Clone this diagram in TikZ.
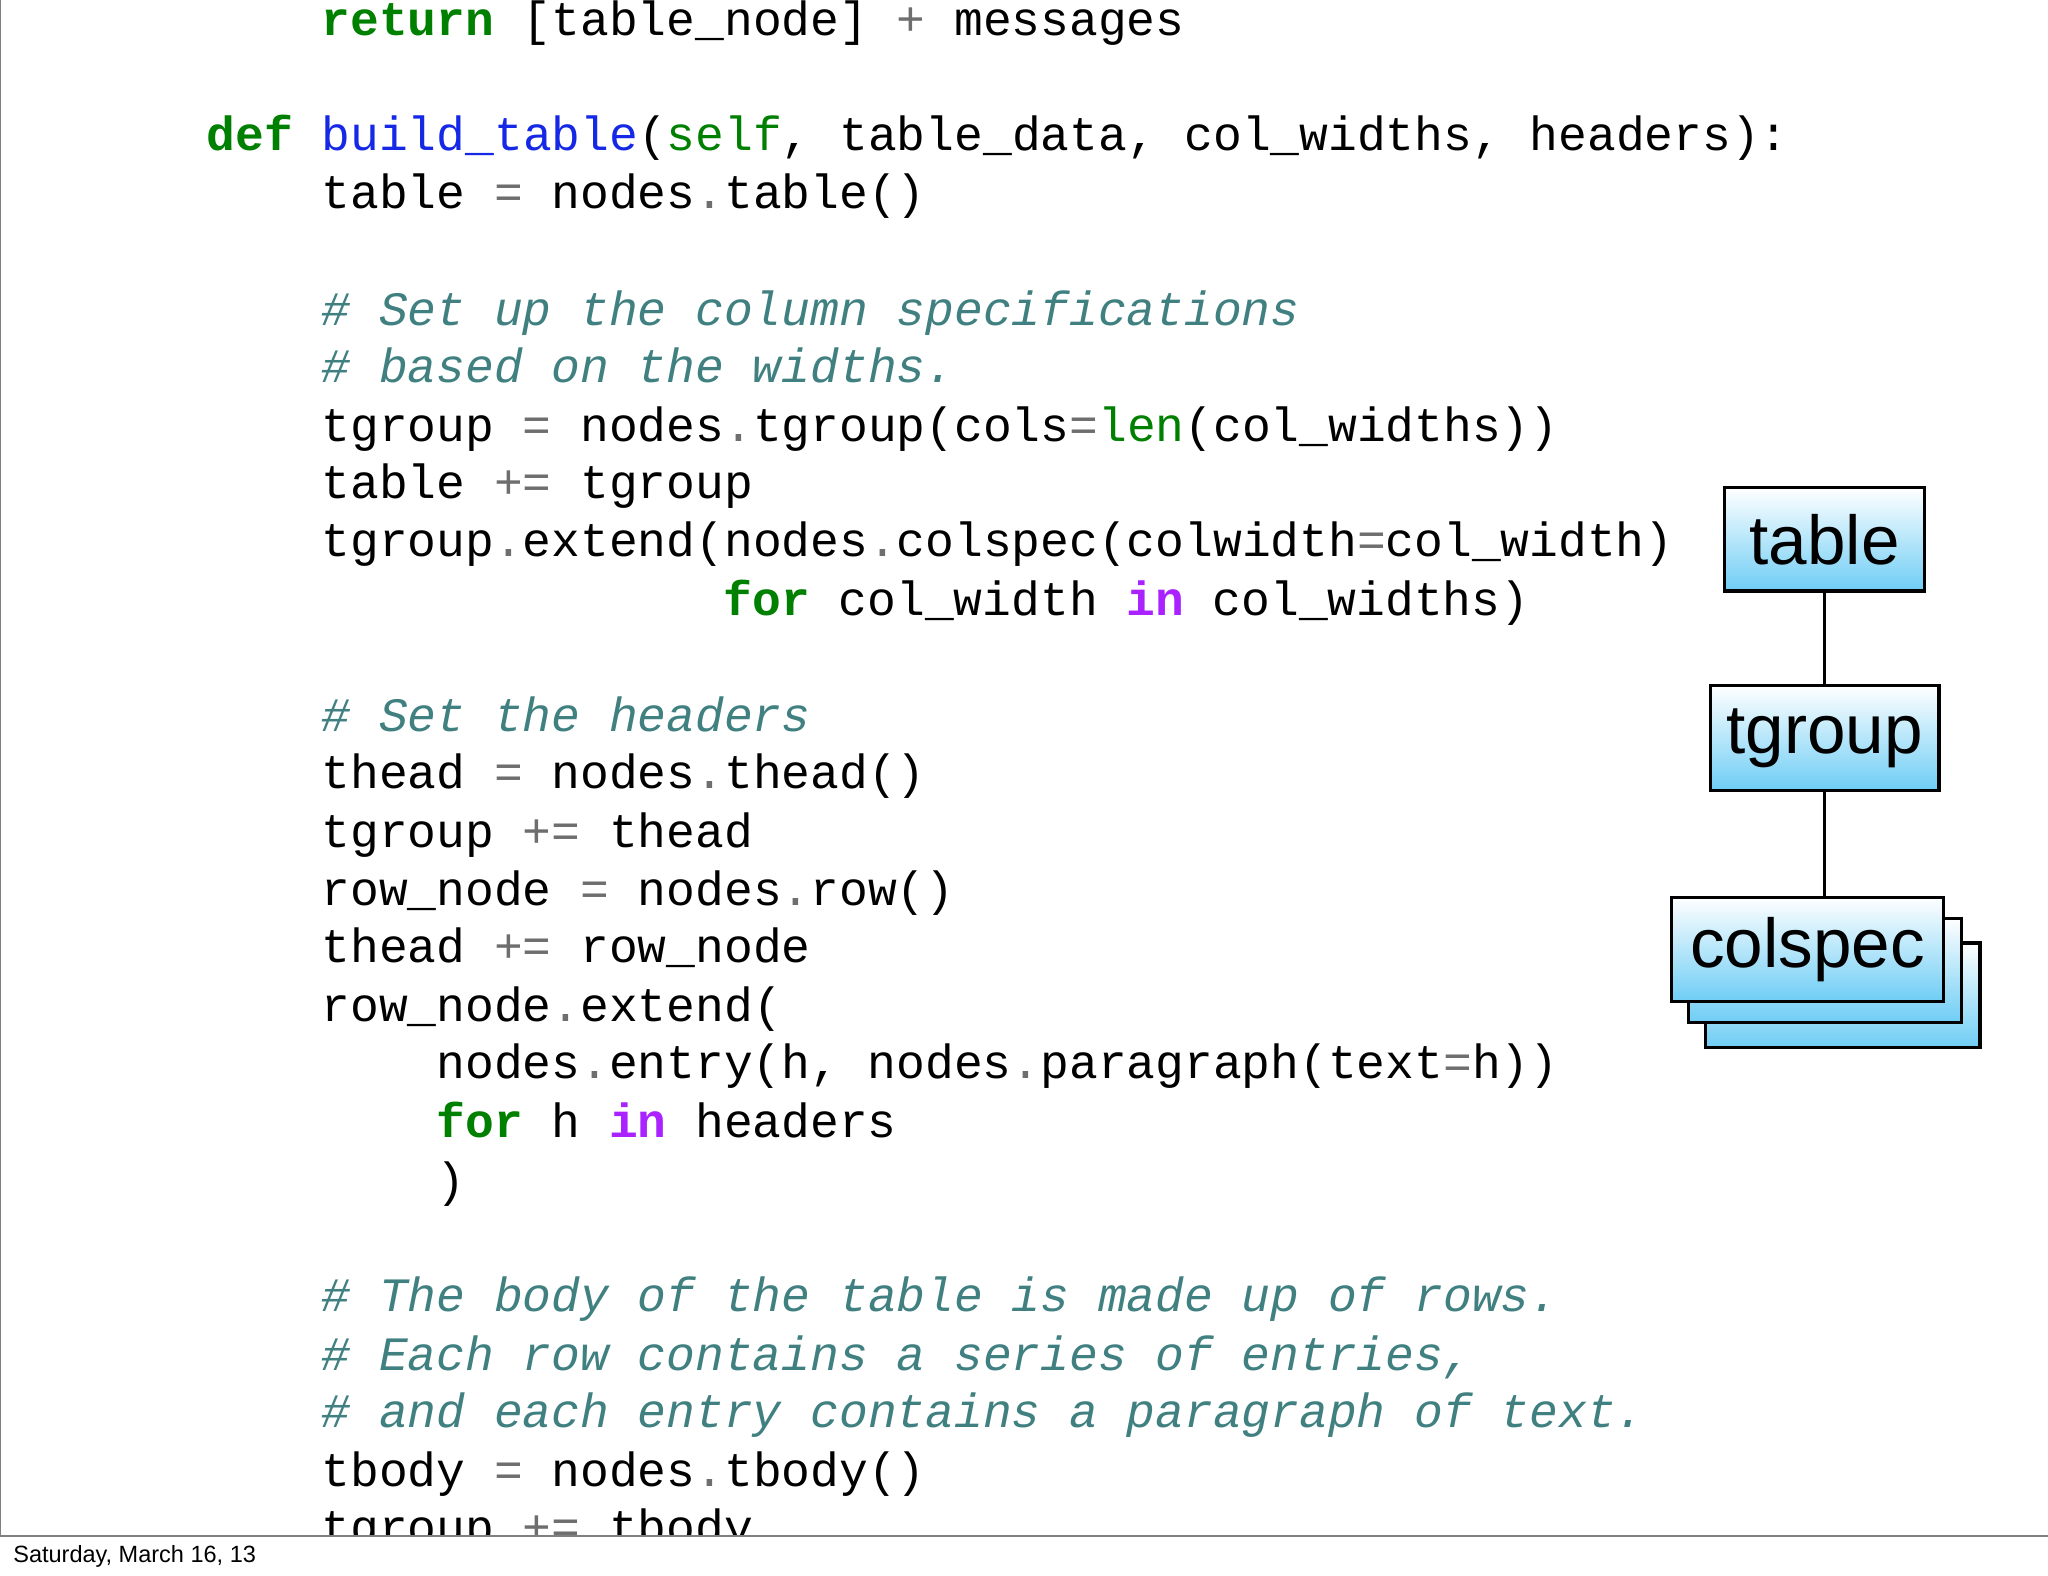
\documentclass[tikz,border=0pt]{standalone}
\usepackage{fontspec}
\setmainfont{Liberation Sans}
\setmonofont{Liberation Mono}
\definecolor{kwg}{RGB}{0,128,0}
\definecolor{fnb}{RGB}{20,40,230}
\definecolor{pur}{RGB}{170,34,255}
\definecolor{opg}{RGB}{110,110,110}
\definecolor{cmt}{RGB}{64,128,128}
\definecolor{boxb}{RGB}{110,205,245}
\newcommand{\kw}[1]{\textcolor{kwg}{\bfseries #1}}
\newcommand{\fn}[1]{\textcolor{fnb}{#1}}
\newcommand{\gs}[1]{\textcolor{kwg}{#1}}
\newcommand{\pk}[1]{\textcolor{pur}{\bfseries #1}}
\newcommand{\op}[1]{\textcolor{opg}{#1}}
\newcommand{\cm}[1]{\textcolor{cmt}{\itshape #1}}
\begin{document}
\begin{tikzpicture}[x=1pt,y=-1pt,
  code/.style={anchor=base west,inner sep=0pt,font=\ttfamily\fontsize{36.7}{44}\selectfont},
  tbox/.style={draw=black,line width=2.5pt,top color=white,bottom color=boxb,inner sep=0pt,font=\fontsize{53}{58}\selectfont}]
\useasboundingbox (0,0) rectangle (1568,1206);
\fill[white] (0,0) rectangle (1568,1206);
\begin{scope}
\clip (0,0) rectangle (1568,1176);
\node[code] (l1) at (246,27) {\kw{return} [table\_node] \op{+} messages};
\node[code] (l2) at (158,115) {\kw{def} \fn{build\_table}(\gs{self}, table\_data, col\_widths, headers):};
\node[code] (l3) at (246,160) {table \op{=} nodes\op{.}table()};
\node[code] (l4) at (246,249) {\cm{\# Set up the column specifications}};
\node[code] (l5) at (246,293) {\cm{\# based on the widths.}};
\node[code] (l6) at (246,338) {tgroup \op{=} nodes\op{.}tgroup(cols\op{=}\gs{len}(col\_widths))};
\node[code] (l7) at (246,382) {table \op{+=} tgroup};
\node[code] (l8) at (246,426) {tgroup\op{.}extend(nodes\op{.}colspec(colwidth\op{=}col\_width)};
\node[code] (l9) at (554,471) {\kw{for} col\_width \pk{in} col\_widths)};
\node[code] (l10) at (246,560) {\cm{\# Set the headers}};
\node[code] (l11) at (246,604) {thead \op{=} nodes\op{.}thead()};
\node[code] (l12) at (246,649) {tgroup \op{+=} thead};
\node[code] (l13) at (246,693) {row\_node \op{=} nodes\op{.}row()};
\node[code] (l14) at (246,737) {thead \op{+=} row\_node};
\node[code] (l15) at (246,782) {row\_node\op{.}extend(};
\node[code] (l16) at (334,826) {nodes\op{.}entry(h, nodes\op{.}paragraph(text\op{=}h))};
\node[code] (l17) at (334,871) {\kw{for} h \pk{in} headers};
\node[code] (l18) at (334,916) {)};
\node[code] (l19) at (246,1004) {\cm{\# The body of the table is made up of rows.}};
\node[code] (l20) at (246,1049) {\cm{\# Each row contains a series of entries,}};
\node[code] (l21) at (246,1093) {\cm{\# and each entry contains a paragraph of text.}};
\node[code] (l22) at (246,1138) {tbody \op{=} nodes\op{.}tbody()};
\node[code] (l23) at (246,1182) {tgroup \op{+=} tbody};
\end{scope}
\draw[line width=1pt,gray] (0,0) -- (0,1176) -- (1568,1176);
\node[anchor=base west,inner sep=0pt,font=\fontsize{18}{21}\selectfont] (foot) at (10,1196) {Saturday, March 16, 13};
% boxes
\node[tbox,minimum width=210pt,minimum height=80pt] (cs3) at (1411,762) {};
\node[tbox,minimum width=209pt,minimum height=80pt] (cs2) at (1397,743) {};
\node[tbox,minimum width=208pt,minimum height=80pt] (cs1) at (1384,727) {colspec};
\node[tbox,minimum width=153pt,minimum height=79pt] (tb) at (1397,413) {table};
\node[tbox,minimum width=175pt,minimum height=80pt] (tg) at (1397,565) {tgroup};
\draw[line width=2.5pt] (tb.south) -- (tg.north);
\draw[line width=2.5pt] (tg.south) -- (tg.south |- cs1.north);
\end{tikzpicture}
\end{document}
